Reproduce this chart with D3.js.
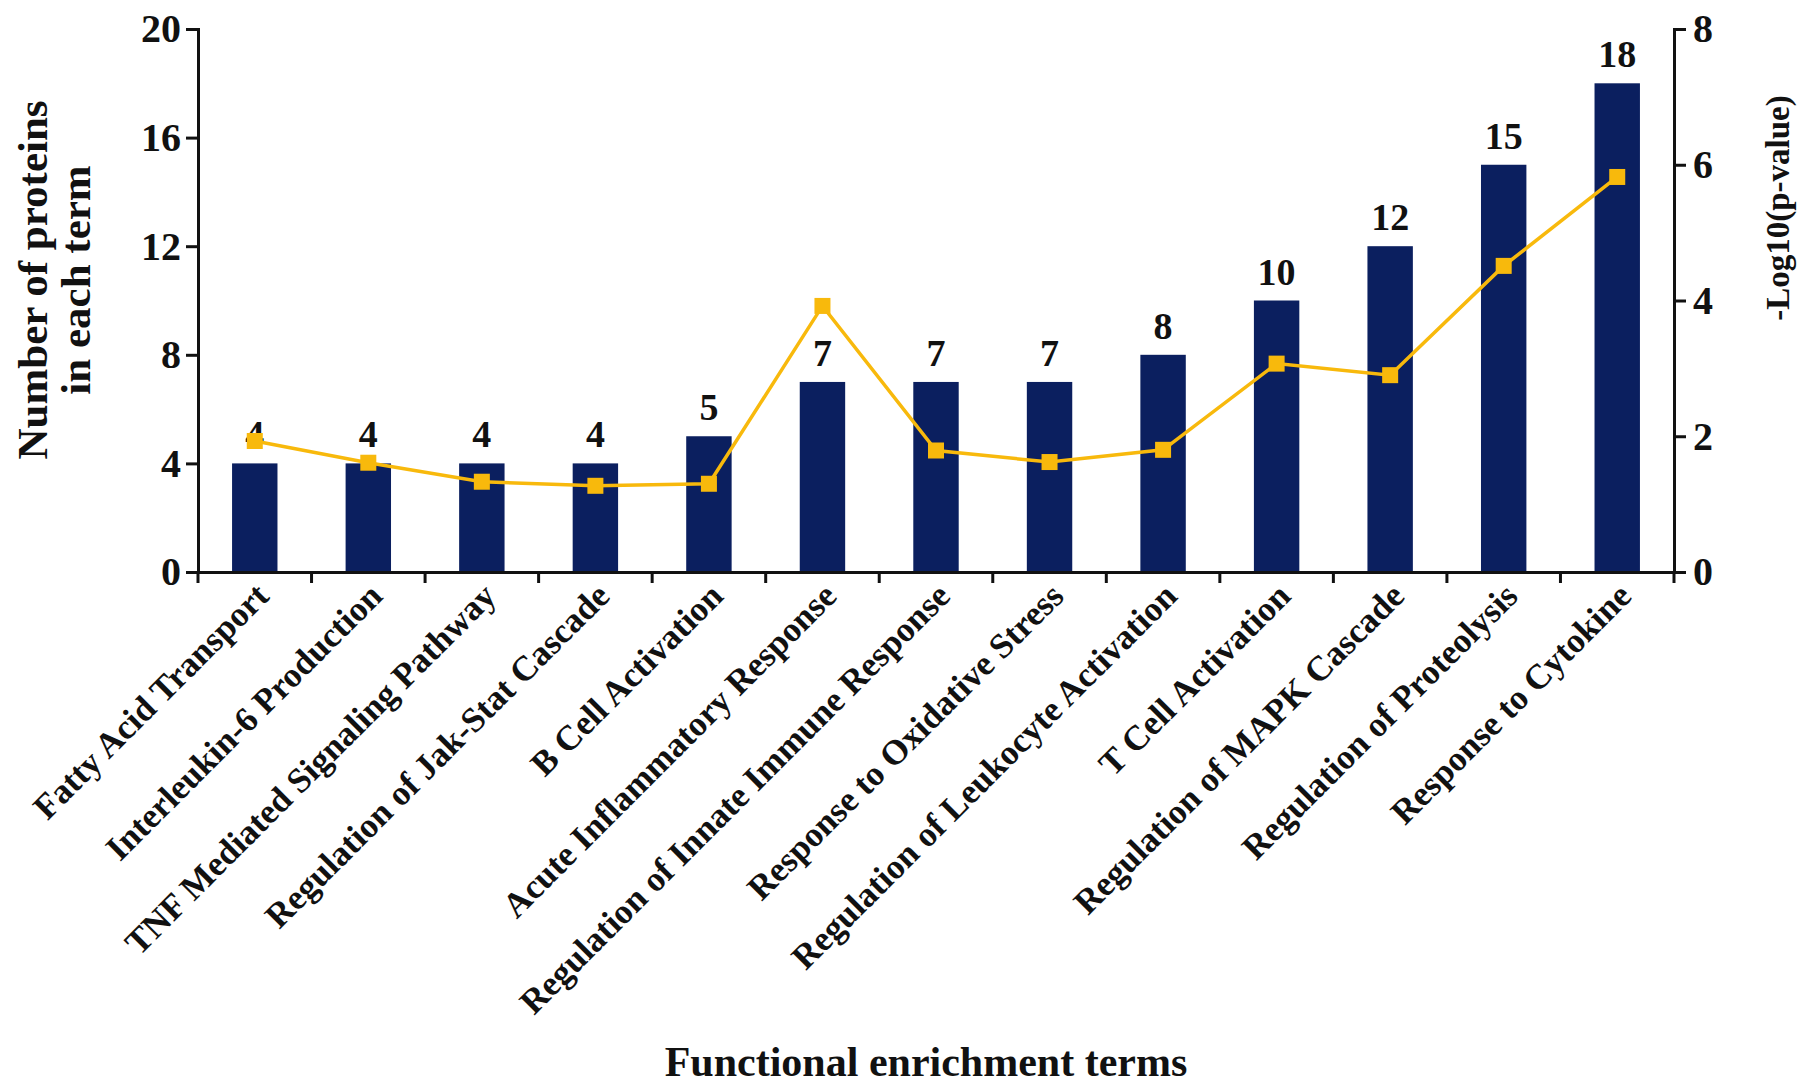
<!DOCTYPE html>
<html>
<head>
<meta charset="utf-8">
<script src="https://d3js.org/d3.v7.min.js"></script>
<style>
  body { margin: 0; background: #fff; }
  text { font-family: "Liberation Serif", "Times New Roman", serif; font-weight: bold; fill: #111; }
</style>
</head>
<body>
<div id="chart"></div>
<script>
// categories and values
var terms = ["Fatty Acid Transport", "Interleukin-6 Production", "TNF Mediated Signaling Pathway",
  "Regulation of Jak-Stat Cascade", "B Cell Activation", "Acute Inflammatory Response",
  "Regulation of Innate Immune Response", "Response to Oxidative Stress",
  "Regulation of Leukocyte Activation", "T Cell Activation", "Regulation of MAPK Cascade",
  "Regulation of Proteolysis", "Response to Cytokine"];
var proteinCounts = [4, 4, 4, 4, 5, 7, 7, 7, 8, 10, 12, 15, 18];
var logP = [1.93, 1.61, 1.33, 1.27, 1.30, 3.92, 1.79, 1.62, 1.80, 3.07, 2.90, 4.51, 5.82];
var leftTicks = [0, 4, 8, 12, 16, 20];
var rightTicks = [0, 2, 4, 6, 8];

var W = 1804, H = 1091;
var mLeft = 198, mRight = 1674, mTop = 29, mBottom = 572;

var svg = d3.select("#chart").append("svg").attr("width", W).attr("height", H);

var x = d3.scaleBand().domain(terms).range([mLeft, mRight]).padding(0);
var y = d3.scaleLinear().domain([0, 20]).range([mBottom, mTop]);
var y2 = d3.scaleLinear().domain([0, 8]).range([mBottom, mTop]);

var barW = x.bandwidth() * 0.4;

// bars
svg.selectAll("rect.bar")
  .data(terms)
  .enter()
  .append("rect")
    .attr("class", "bar")
    .attr("x", function (d) { return x(d) + x.bandwidth() / 2 - barW / 2; })
    .attr("y", function (d, i) { return y(proteinCounts[i]); })
    .attr("width", barW)
    .attr("height", function (d, i) { return mBottom - y(proteinCounts[i]); })
    .style("fill", "#0b1f5f");

// count labels
svg.selectAll("text.count")
  .data(terms)
  .enter()
  .append("text")
    .attr("class", "count")
    .attr("x", function (d) { return x(d) + x.bandwidth() / 2; })
    .attr("y", function (d, i) { return y(proteinCounts[i]) - 16; })
    .attr("text-anchor", "middle")
    .style("font-size", "38px")
    .text(function (d, i) { return proteinCounts[i]; });

// p-value line
var line = d3.line()
  .x(function (d, i) { return x(terms[i]) + x.bandwidth() / 2; })
  .y(function (d) { return y2(d); });

svg.append("path")
  .datum(logP)
  .attr("d", line)
  .style("fill", "none")
  .style("stroke", "#f8b90c")
  .style("stroke-width", 3.5);

svg.selectAll("rect.marker")
  .data(logP)
  .enter()
  .append("rect")
    .attr("class", "marker")
    .attr("x", function (d, i) { return x(terms[i]) + x.bandwidth() / 2 - 8; })
    .attr("y", function (d) { return y2(d) - 8; })
    .attr("width", 16)
    .attr("height", 16)
    .style("fill", "#f8b90c");

// axes
var axisLeft = d3.axisLeft(y).tickValues(leftTicks).tickSize(12).tickPadding(5);
var gl = svg.append("g").attr("transform", "translate(" + mLeft + ",0)").call(axisLeft);

var axisRight = d3.axisRight(y2).tickValues(rightTicks).tickSize(12).tickPadding(7);
var gr = svg.append("g").attr("transform", "translate(" + mRight + ",0)").call(axisRight);

var axisBottom = d3.axisBottom(x).tickSize(0).tickFormat("");
var gb = svg.append("g").attr("transform", "translate(0," + mBottom + ")").call(axisBottom);

[gl, gr, gb].forEach(function (g) {
  g.select(".domain").style("stroke", "#111").style("stroke-width", 3);
  g.selectAll(".tick line").style("stroke", "#111").style("stroke-width", 3);
  g.selectAll(".tick text").style("font-size", "40px").style("font-family", "Liberation Serif, serif")
    .style("font-weight", "bold").style("fill", "#111");
});

// x ticks at band boundaries
var edges = terms.map(function (d) { return x(d); }).concat([mRight]);
svg.selectAll("line.edge")
  .data(edges)
  .enter()
  .append("line")
    .attr("x1", function (d) { return d; })
    .attr("x2", function (d) { return d; })
    .attr("y1", mBottom)
    .attr("y2", mBottom + 11)
    .style("stroke", "#111")
    .style("stroke-width", 3);

// category labels
svg.selectAll("text.term")
  .data(terms)
  .enter()
  .append("text")
    .attr("class", "term")
    .attr("text-anchor", "end")
    .attr("transform", function (d) {
      return "translate(" + (x(d) + x.bandwidth() / 2 + 16) + "," + (mBottom + 26) + ") rotate(-45)";
    })
    .style("font-size", "35px")
    .text(function (d) { return d; });

// axis titles
svg.append("text")
  .attr("transform", "translate(47,280) rotate(-90)")
  .attr("text-anchor", "middle")
  .style("font-size", "43px")
  .text("Number of proteins");

svg.append("text")
  .attr("transform", "translate(90,280) rotate(-90)")
  .attr("text-anchor", "middle")
  .style("font-size", "43px")
  .text("in each term");

svg.append("text")
  .attr("transform", "translate(1789,208) rotate(-90)")
  .attr("text-anchor", "middle")
  .style("font-size", "33px")
  .text("-Log10(p-value)");

svg.append("text")
  .attr("x", 926)
  .attr("y", 1076)
  .attr("text-anchor", "middle")
  .style("font-size", "42px")
  .text("Functional enrichment terms");
</script>
</body>
</html>
